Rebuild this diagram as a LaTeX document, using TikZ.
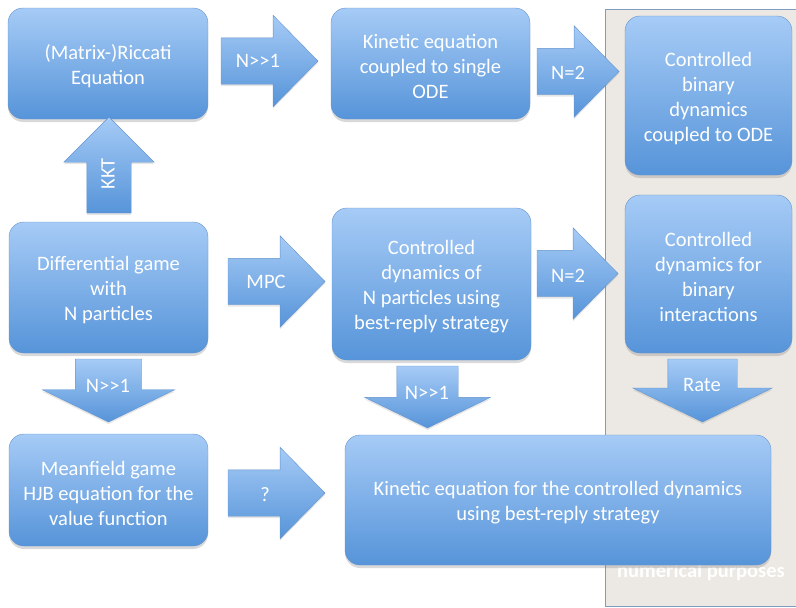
\documentclass[tikz,border=0pt]{standalone}
\usepackage{fontspec}
\setmainfont{Carlito}
\usetikzlibrary{shapes.arrows,shadows}

\definecolor{boxtop}{RGB}{166,203,246}
\definecolor{boxbot}{RGB}{86,148,217}
\definecolor{boxline}{RGB}{100,148,206}
\definecolor{panelfill}{RGB}{236,232,227}
\definecolor{panelline}{RGB}{130,156,192}

\tikzset{
  box/.style={rounded corners=15pt, draw=boxline, top color=boxtop, bottom color=boxbot,
    inner sep=0pt, drop shadow={opacity=0.3, shadow xshift=0pt, shadow yshift=-3pt}},
  boxtext/.style={text=white, align=center, inner sep=0pt, yshift=-3pt,
    font=\fontsize{20.5}{25}\selectfont},
  blockarrow/.style={single arrow, draw=boxline, top color=boxtop, bottom color=boxbot,
    anchor=tail, outer sep=0pt,
    drop shadow={opacity=0.2, shadow xshift=0pt, shadow yshift=-2pt}},
  rightarrow/.style={blockarrow, inner sep=23pt, single arrow head extend=22.5pt,
    single arrow tip angle=91},
  downarrow/.style={blockarrow, shape border rotate=270, inner ysep=0pt, single arrow tip angle=128},
  arrowtext/.style={text=white, inner sep=0pt, font=\fontsize{20.5}{25}\selectfont}
}

\begin{document}
\begin{tikzpicture}[x=1pt, y=-1pt]
  \useasboundingbox (0,0) rectangle (796,608);

  % grey panel on the right
  \fill[panelfill] (605,9) rectangle (796,606);
  \draw[panelline, thin] (796,9) -- (605,9) -- (605,606) -- (796,606);
  \node[text=white, font=\fontsize{20.5}{22}\bfseries, anchor=base] (numtxt) at (701,577) {numerical purposes};

  % First we draw the boxes
  \foreach \name/\x/\y/\w/\h/\txt in {
      ricc/108/63.5/200/111/{(Matrix-)Riccati\\Equation},
      kinode/430.5/63.5/199/111/{Kinetic equation\\coupled to single\\ODE},
      binode/708.5/95.5/167/159/{Controlled\\binary\\dynamics\\coupled to ODE},
      diffg/108.5/287.5/199/131/{Differential game\\with\\N particles},
      ctrlN/431.5/284/199/152/{Controlled\\dynamics of\\N particles using\\best-reply strategy},
      binint/708.5/274/167/158/{Controlled\\dynamics for\\binary\\interactions},
      mfg/108.5/490/199/112/{Meanfield game\\HJB equation for the\\value function},
      kinbig/558/500/426/130/{Kinetic equation for the controlled dynamics\\using best-reply strategy}}
    \node[box, minimum width=\w pt, minimum height=\h pt,
          label={[boxtext]center:{\txt}}] (\name) at (\x,\y) {};

  % arrows to the right
  \foreach \name/\x/\y/\len in {ar1/221/61/97, ar2/537/71.5/82, ar3/228/281.5/97, ar4/537/273.5/81, ar5/228/493/97}
    \node[rightarrow, minimum height=\len pt] (\name) at (\x,\y) {};

  % arrows downwards, and KKT upwards
  \node[downarrow, inner xsep=33pt, single arrow head extend=33pt, minimum height=63pt] (dn1) at (108.5,359) {};
  \node[downarrow, inner xsep=30.5pt, single arrow head extend=32pt, minimum height=62pt] (dn2) at (427.5,366) {};
  \node[downarrow, inner xsep=34.5pt, single arrow head extend=35pt, minimum height=63pt] (dn3) at (702.5,359) {};
  \node[blockarrow, shape border rotate=90, inner xsep=22pt, inner ysep=0pt, single arrow head extend=23pt,
        single arrow tip angle=90, minimum height=96pt] (up1) at (109,213) {};

  % labels on the arrows
  \foreach \id/\x/\y/\lab in {l1/258/61/{N>{}>1}, l2/568/73/{N=2}, l3/266/282/MPC, l4/568/276/{N=2},
      l5/265/495/?, l6/108/386/{N>{}>1}, l7/427/393/{N>{}>1}, l8/702/385/Rate}
    \node[arrowtext] (\id) at (\x,\y) {\lab};
  \node[arrowtext, rotate=90] (l9) at (108,174) {KKT};
\end{tikzpicture}
\end{document}
